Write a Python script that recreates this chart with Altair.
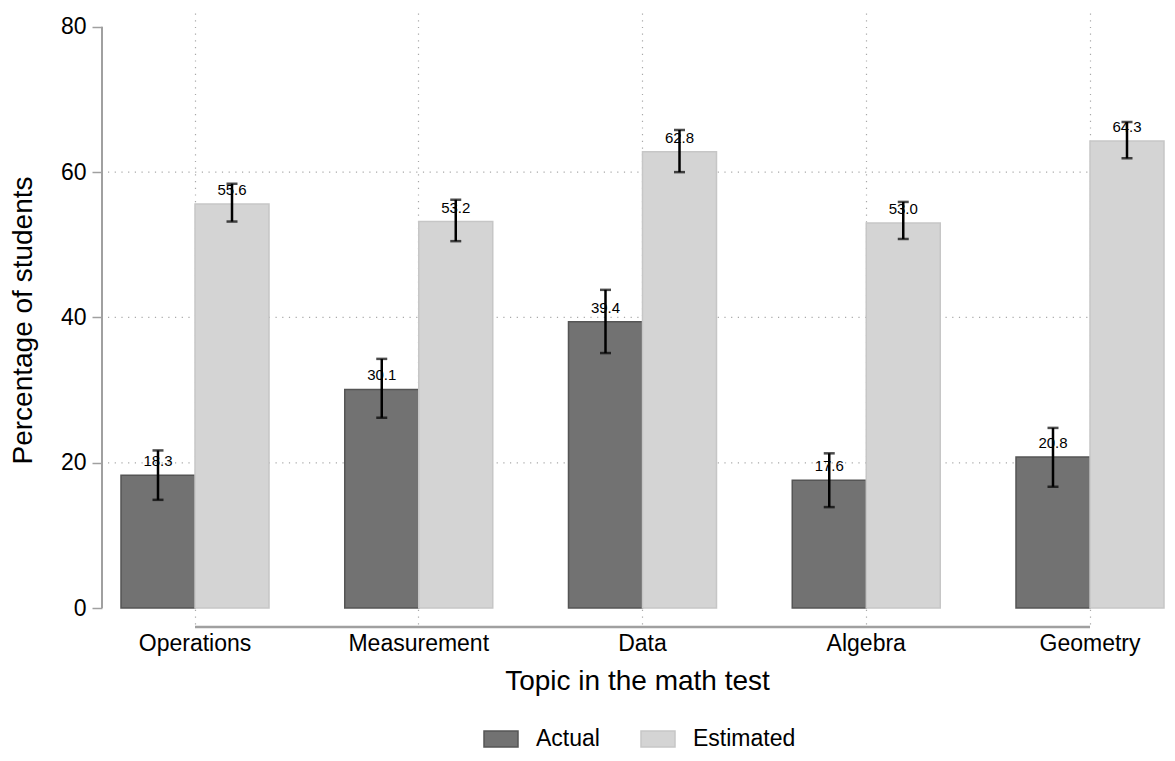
import altair as alt
import pandas as pd

topics = ["Operations", "Measurement", "Data", "Algebra", "Geometry"]
series = ["Actual", "Estimated"]
actual = [18.3, 30.1, 39.4, 17.6, 20.8]
estimated = [55.6, 53.2, 62.8, 53.0, 64.3]
actual_lo = [14.9, 26.2, 35.1, 13.9, 16.7]
actual_hi = [21.7, 34.3, 43.8, 21.3, 24.8]
est_lo = [53.2, 50.5, 60.0, 50.8, 61.9]
est_hi = [58.4, 56.2, 65.8, 55.9, 66.9]
y_ticks = [0, 20, 40, 60, 80]
grid_vals = [20, 40, 60]

rows = []
for i, t in enumerate(topics):
    rows.append(dict(topic=t, series="Actual", value=actual[i], lo=actual_lo[i], hi=actual_hi[i]))
    rows.append(dict(topic=t, series="Estimated", value=estimated[i], lo=est_lo[i], hi=est_hi[i]))
df = pd.DataFrame(rows)

W, H = 1058, 614
FONT = "Liberation Sans"
GRID = "#a8a8a8"
AXIS = "#a0a0a0"

x_scale = alt.Scale(domain=topics, paddingInner=0.3385, paddingOuter=0.0335, align=0.867)
y_scale = alt.Scale(domain=[-2.6, 81.9], nice=False, zero=False)
fill_scale = alt.Scale(domain=series, range=["#727272", "#d4d4d4"])
stroke_scale = alt.Scale(domain=series, range=["#555555", "#c6c6c6"])
off_scale = alt.Scale(domain=series, paddingInner=0, paddingOuter=0)

x_axis = alt.Axis(title="Topic in the math test", grid=True, bandPosition=0.5,
                  gridDash=[1.2, 5.5], gridColor=GRID, gridWidth=1.2,
                  ticks=False, domain=False, labelAngle=0, labelFontSize=23,
                  labelPadding=5, titleFontSize=28, titlePadding=12,
                  labelColor="black", titleColor="black", titleFontWeight="normal")
y_axis = alt.Axis(title="Percentage of students", values=y_ticks, grid=False, domain=False,
                  offset=6, tickSize=10, tickColor=AXIS, tickWidth=1.5,
                  labelFontSize=23, labelPadding=6, labelColor="black",
                  titleFontSize=28, titlePadding=23, titleColor="black",
                  titleFontWeight="normal")

legend = alt.Legend(title=None, orient="none", legendX=375, legendY=708, direction="horizontal",
                    symbolType="M-1,-0.47H1V0.47H-1Z", symbolSize=1156, symbolStrokeWidth=1.5,
                    labelFontSize=23, labelOffset=17, columnPadding=38, labelColor="black")

xoff = alt.XOffset("series:N", scale=off_scale)


def X(field):
    return alt.X(field, scale=x_scale, axis=x_axis)


def Y(field):
    return alt.Y(field, scale=y_scale, axis=y_axis)


hgrid = alt.Chart(pd.DataFrame({"v": grid_vals})).mark_rule(
    color=GRID, strokeDash=[1.2, 5.5], strokeWidth=1.2
).encode(
    y=Y("v:Q"),
    x=alt.value(0), x2=alt.value(W)
)

yline = alt.Chart(pd.DataFrame({"a": [min(y_ticks)], "b": [max(y_ticks)]})).mark_rule(
    color=AXIS, strokeWidth=2
).encode(
    y=Y("a:Q"), y2="b:Q", x=alt.value(-6)
)

xline = alt.Chart(pd.DataFrame({"a": [topics[0]], "b": [topics[-1]]})).mark_rule(
    color=AXIS, strokeWidth=2.5
).encode(
    x=alt.X("a:N", scale=x_scale, axis=x_axis, bandPosition=0.5),
    x2=alt.X2("b:N", bandPosition=0.5),
    y=alt.value(H)
)

base = alt.Chart(df)

bars = base.mark_bar(strokeWidth=1.5).encode(
    x=X("topic:N"),
    xOffset=xoff,
    y=Y("value:Q"),
    y2=alt.Y2(datum=0),
    fill=alt.Fill("series:N", scale=fill_scale, legend=legend),
    stroke=alt.Stroke("series:N", scale=stroke_scale, legend=legend),
)

err = base.mark_rule(color="black", strokeWidth=2.5).encode(
    x=X("topic:N"),
    xOffset=xoff,
    y=Y("lo:Q"),
    y2="hi:Q",
)

cap_lo = base.mark_tick(color="black", thickness=2.5, size=11, orient="horizontal").encode(
    x=X("topic:N"),
    xOffset=xoff,
    y=Y("lo:Q"),
)
cap_hi = base.mark_tick(color="black", thickness=2.5, size=11, orient="horizontal").encode(
    x=X("topic:N"),
    xOffset=xoff,
    y=Y("hi:Q"),
)

labels = base.mark_text(dy=-9, baseline="alphabetic", fontSize=15, font=FONT, color="black").encode(
    x=X("topic:N"),
    xOffset=xoff,
    y=Y("value:Q"),
    text=alt.Text("value:Q", format=".1f"),
)

chart = alt.layer(hgrid, bars, yline, xline, err, cap_lo, cap_hi, labels).properties(
    width=W, height=H,
    autosize=alt.AutoSizeParams(type="none"),
    padding={"left": 100, "top": 5, "right": 0, "bottom": 126},
).configure(font=FONT).configure_view(stroke=None)

chart.save("out.html", embed_options={"renderer": "svg", "actions": False})
